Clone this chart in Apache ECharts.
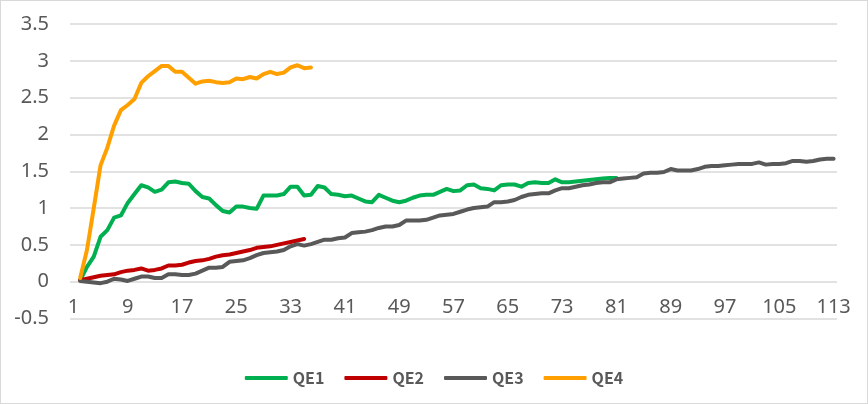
<!DOCTYPE html>
<html>
<head>
<meta charset="utf-8">
<script src="https://cdn.jsdelivr.net/npm/echarts@6/dist/echarts.min.js"></script>
<style>
  html, body { margin: 0; padding: 0; background: #fff; }
  #chart { width: 868px; height: 404px; box-sizing: border-box; border: 1px solid #d9d9d9; }
</style>
</head>
<body>
<div id="chart"></div>
<script>
// x categories 1..113
const categories = []
for (let i = 1; i <= 113; i++) categories.push(String(i))

// values, category 1 is empty
const qe1 = [null, 0.02, 0.2, 0.34, 0.61, 0.7, 0.87, 0.9, 1.07, 1.19,
  1.31, 1.28, 1.22, 1.25, 1.35, 1.36, 1.34, 1.33, 1.23, 1.15,
  1.13, 1.04, 0.96, 0.94, 1.02, 1.02, 1.0, 0.99, 1.17, 1.17,
  1.17, 1.19, 1.29, 1.29, 1.17, 1.18, 1.3, 1.28, 1.19, 1.18,
  1.16, 1.17, 1.13, 1.09, 1.08, 1.18, 1.14, 1.1, 1.08, 1.1,
  1.14, 1.17, 1.18, 1.18, 1.22, 1.26, 1.23, 1.24, 1.31, 1.32,
  1.27, 1.26, 1.24, 1.31, 1.32, 1.32, 1.29, 1.34, 1.35, 1.34,
  1.34, 1.39, 1.35, 1.35, 1.36, 1.37, 1.38, 1.39, 1.4, 1.41,
  1.41]

const qe2 = [null, 0.02, 0.04, 0.06, 0.08, 0.09, 0.1, 0.13, 0.15, 0.16,
  0.18, 0.15, 0.16, 0.18, 0.22, 0.22, 0.23, 0.26, 0.28, 0.29,
  0.31, 0.34, 0.36, 0.37, 0.39, 0.41, 0.43, 0.46, 0.47, 0.48,
  0.5, 0.52, 0.54, 0.56, 0.58]

const qe3 = [null, 0.01, 0.0, -0.01, -0.02, 0.0, 0.04, 0.03, 0.01, 0.04,
  0.07, 0.07, 0.05, 0.05, 0.1, 0.1, 0.09, 0.09, 0.11, 0.15,
  0.19, 0.19, 0.2, 0.27, 0.28, 0.29, 0.32, 0.36, 0.39, 0.4,
  0.41, 0.43, 0.48, 0.51, 0.49, 0.51, 0.54, 0.57, 0.57, 0.59,
  0.6, 0.66, 0.67, 0.68, 0.7, 0.73, 0.75, 0.75, 0.77, 0.83,
  0.83, 0.83, 0.84, 0.87, 0.9, 0.91, 0.92, 0.95, 0.98, 1.0,
  1.01, 1.02, 1.08, 1.08, 1.09, 1.11, 1.15, 1.18, 1.19, 1.2,
  1.2, 1.24, 1.27, 1.27, 1.29, 1.31, 1.32, 1.34, 1.35, 1.35,
  1.39, 1.4, 1.41, 1.42, 1.47, 1.48, 1.48, 1.49, 1.53, 1.51,
  1.51, 1.51, 1.53, 1.56, 1.57, 1.57, 1.58, 1.59, 1.6, 1.6,
  1.6, 1.62, 1.59, 1.6, 1.6, 1.61, 1.64, 1.64, 1.63, 1.64,
  1.66, 1.67, 1.67]

const qe4 = [null, 0.05, 0.43, 1.0, 1.58, 1.82, 2.12, 2.33, 2.4, 2.48,
  2.7, 2.79, 2.86, 2.93, 2.93, 2.85, 2.85, 2.77, 2.69, 2.72,
  2.73, 2.71, 2.7, 2.71, 2.76, 2.75, 2.78, 2.76, 2.82, 2.85,
  2.82, 2.84, 2.91, 2.94, 2.9, 2.91]

const seriesNames = ['QE1', 'QE2', 'QE3', 'QE4']
const seriesColors = ['#00b050', '#c00000', '#595959', '#ffa000']
const seriesData = [qe1, qe2, qe3, qe4]

const chart = echarts.init(document.getElementById('chart'))

const option = {
  animation: false,
  grid: {
    left: 69,
    right: 30,
    top: 23,
    bottom: 84.5
  },
  legend: {
    data: seriesNames,
    left: 'center',
    top: 364,
    icon: 'roundRect',
    itemWidth: 43,
    itemHeight: 4,
    itemGap: 20,
    textStyle: {
      color: '#595959',
      fontSize: 16,
      fontWeight: 'bold',
      fontFamily: 'Noto Sans CJK SC'
    }
  },
  xAxis: {
    type: 'category',
    data: categories,
    boundaryGap: true,
    axisLine: { show: false },
    axisTick: { show: false },
    axisLabel: {
      interval: 7,
      margin: -11,
      verticalAlign: 'middle',
      color: '#595959',
      fontSize: 20,
      fontFamily: 'Noto Sans'
    }
  },
  yAxis: {
    type: 'value',
    min: -0.5,
    max: 3.5,
    interval: 0.5,
    axisLine: { show: false },
    axisTick: { show: false },
    axisLabel: {
      margin: 21,
      color: '#595959',
      fontSize: 20,
      fontFamily: 'Noto Sans'
    },
    splitLine: {
      lineStyle: { color: '#d9d9d9', width: 1.5 }
    }
  },
  series: seriesNames.map((name, k) => ({
    name: name,
    type: 'line',
    data: seriesData[k],
    symbol: 'none',
    showSymbol: false,
    color: seriesColors[k],
    lineStyle: {
      width: 4,
      cap: 'round',
      join: 'round'
    }
  }))
}

chart.setOption(option)
</script>
</body>
</html>
